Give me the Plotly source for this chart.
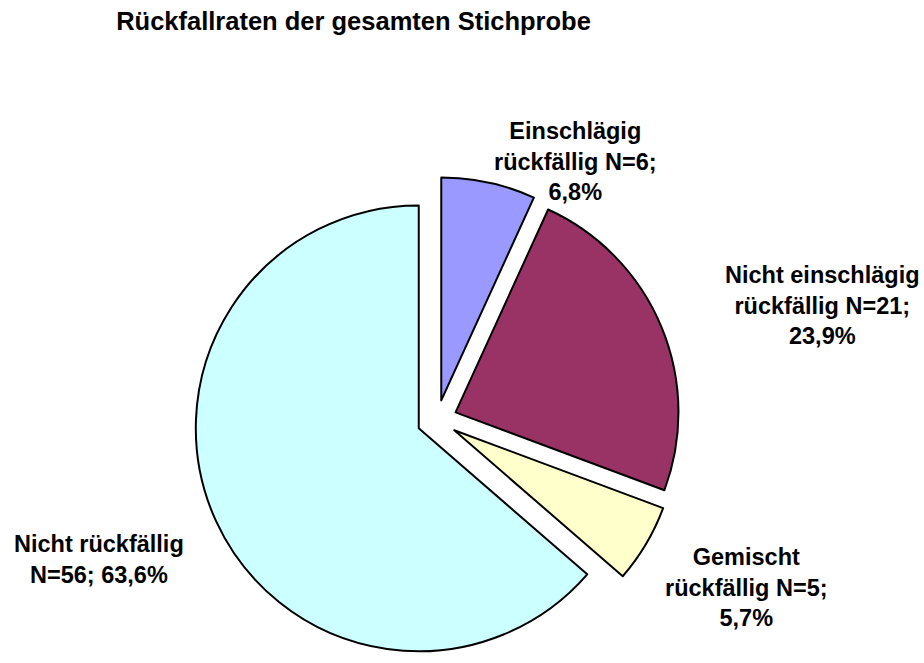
import plotly.graph_objects as go

# --- data ---
categories = ["Einschlägig rückfällig", "Nicht einschlägig rückfällig",
              "Gemischt rückfällig", "Nicht rückfällig"]
counts = [6, 21, 5, 56]
# how each label is broken onto lines (N and % get appended)
label_heads = ["Einschlägig<br>rückfällig", "Nicht einschlägig<br>rückfällig",
               "Gemischt<br>rückfällig", "Nicht rückfällig<br>"]
colors = ["#9999FF", "#993366", "#FFFFCC", "#CCFFFF"]

W, H = 924, 663
R = 223          # pie radius in px
PULL = 0.09
CX = 437         # pie centre x in px
box = 2 * R * (1 + PULL)
top = H - box
right = W - 2 * CX

total = sum(counts)


def fmt_label(head, n):
    pct = f"{100 * n / total:.1f}".replace(".", ",")
    if head.endswith("<br>"):
        return f"{head}N={n}; {pct}%"
    return f"{head} N={n};<br>{pct}%"


fig = go.Figure(go.Pie(
    labels=categories,
    values=counts,
    sort=False,
    direction="clockwise",
    rotation=0,
    pull=[PULL] * len(counts),
    marker=dict(colors=colors, line=dict(color="black", width=2)),
    textinfo="none",
    hoverinfo="label+value+percent",
    showlegend=False,
))

# label positions (px in the page)
label_pos = [(575, 161), (822, 305), (746, 587), (99, 559)]
for head, n, (px_, py_) in zip(label_heads, counts, label_pos):
    fig.add_annotation(
        text="<b>" + fmt_label(head, n) + "</b>",
        xref="paper", yref="paper",
        x=px_ / (W - right), y=(H - py_) / (H - top),
        xanchor="center", yanchor="middle",
        showarrow=False, align="center",
        font=dict(size=23.5, color="black"),
    )

fig.update_layout(
    width=W, height=H,
    margin=dict(l=0, r=right, t=top, b=0),
    paper_bgcolor="white",
    plot_bgcolor="white",
    font=dict(family="Liberation Sans, Arial, sans-serif", color="black"),
    title=dict(
        text="<b>Rückfallraten der gesamten Stichprobe</b>",
        xref="container", x=353.5 / W, xanchor="center",
        yref="container", y=1 - 21 / H, yanchor="middle",
        font=dict(size=25.5, color="black"),
    ),
)

# drop the browser's default body margin so the figure sits at (0, 0)
fig.write_html("out.html", config={"displayModeBar": False},
               post_script="document.body.style.margin='0px';")
